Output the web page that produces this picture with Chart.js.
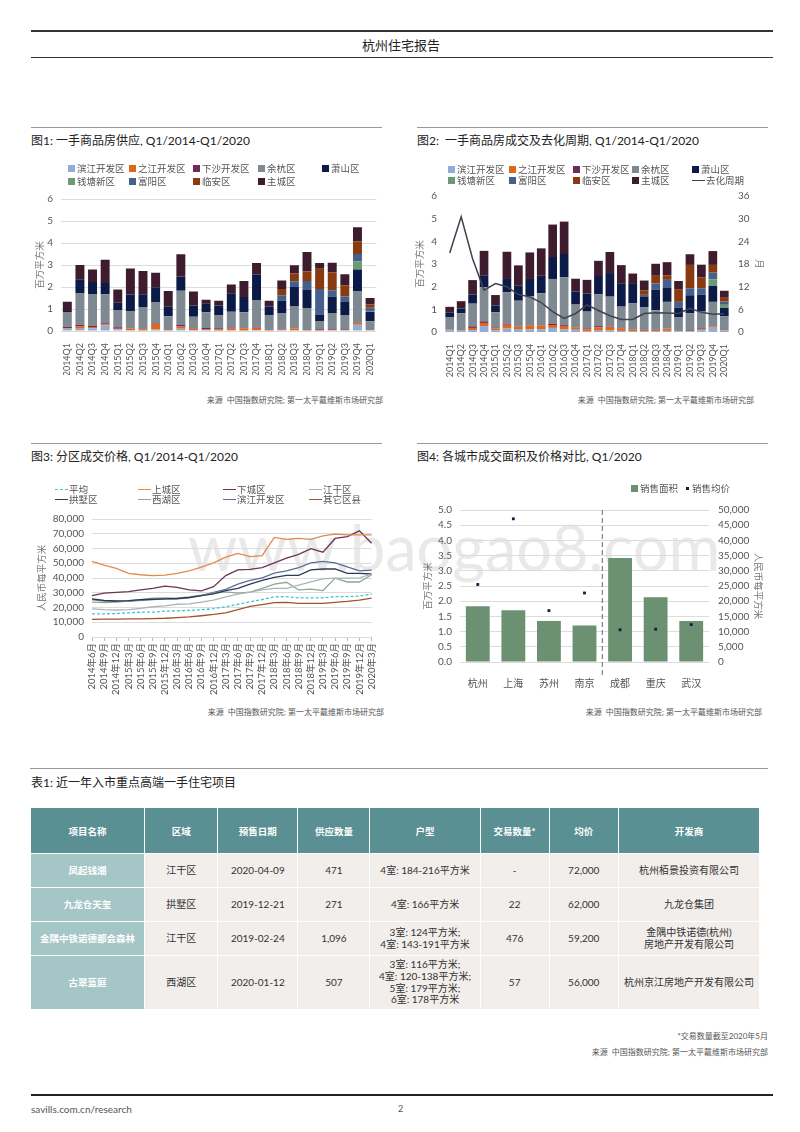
<!DOCTYPE html>
<html><head><meta charset="utf-8">
<script src="https://cdn.jsdelivr.net/npm/chart.js@4.4.1/dist/chart.umd.min.js"></script>
<style>
body{margin:0;background:#fff;}
#page{position:relative;width:800px;height:1132px;overflow:hidden;font-family:Lato,"Noto Sans CJK SC",sans-serif;color:#333;}
.t{position:absolute;white-space:nowrap;}
.rule{position:absolute;}
.title{font-size:12px;line-height:14px;color:#222;}
.src{font-size:8px;line-height:10px;color:#555;}
.lg{position:absolute;font-size:9.5px;line-height:12px;color:#555;white-space:nowrap;}
.cv{position:absolute;}
.wm{position:absolute;left:188px;top:512px;font-size:63px;line-height:70px;color:#e9e9e9;font-family:Lato,sans-serif;white-space:nowrap;}
table.tb{position:absolute;left:30px;top:807px;border-collapse:separate;border-spacing:1px;table-layout:fixed;width:730px;font-family:Lato,"Noto Sans CJK SC",sans-serif;}
.tb th{background:#5a9094;color:#fff;font-size:9.5px;font-weight:700;height:45px;padding:0;text-align:center;}
.tb td{background:#f1eeeb;color:#333;font-size:10px;line-height:11.7px;text-align:center;padding:0;}
.tb td.nm{background:#a5c6c6;color:#fff;font-weight:700;font-size:9.5px;}
</style></head>
<body><div id="page">
<div class="rule" style="left:31px;top:30px;width:742px;height:1.5px;background:#333"></div>
<div class="t" style="left:0;width:802px;text-align:center;top:37px;font-size:13px;line-height:16px;color:#222">杭州住宅报告</div>
<div class="rule" style="left:31px;top:56.5px;width:742px;height:1.5px;background:#333"></div>

<div class="rule" style="left:31px;top:127px;width:351px;height:1px;background:#999"></div>
<div class="rule" style="left:417px;top:127px;width:351px;height:1px;background:#999"></div>
<div class="t title" style="left:31px;top:134px">图1: 一手商品房供应, Q1/2014-Q1/2020</div>
<div class="t title" style="left:417px;top:134px">图2:&nbsp; 一手商品房成交及去化周期, Q1/2014-Q1/2020</div>

<div class="rule" style="left:31px;top:443px;width:351px;height:1px;background:#999"></div>
<div class="rule" style="left:417px;top:443px;width:351px;height:1px;background:#999"></div>
<div class="t title" style="left:31px;top:450px">图3: 分区成交价格, Q1/2014-Q1/2020</div>
<div class="t title" style="left:417px;top:450px">图4: 各城市成交面积及价格对比, Q1/2020</div>

<div class="wm">www.baogao8.com</div>

<div class="cv" style="left:28px;top:185px;"><canvas id="c1" width="357" height="190"></canvas></div>
<div class="cv" style="left:410px;top:182px;"><canvas id="c2" width="370" height="195"></canvas></div>
<div class="cv" style="left:28px;top:505px;"><canvas id="c3" width="357" height="195"></canvas></div>
<div class="cv" style="left:410px;top:495px;"><canvas id="c4" width="370" height="195"></canvas></div>

<div class="t src" style="right:417px;top:395px">来源&nbsp; 中国指数研究院; 第一太平戴维斯市场研究部</div>
<div class="t src" style="right:46px;top:395px">来源&nbsp; 中国指数研究院; 第一太平戴维斯市场研究部</div>
<div class="t src" style="right:416px;top:707px">来源&nbsp; 中国指数研究院; 第一太平戴维斯市场研究部</div>
<div class="t src" style="right:38px;top:707px">来源&nbsp; 中国指数研究院; 第一太平戴维斯市场研究部</div>

<div class="rule" style="left:30px;top:768px;width:738px;height:1px;background:#999"></div>
<div class="t title" style="left:31px;top:776px">表1: 近一年入市重点高端一手住宅项目</div>

<table class="tb">
<colgroup><col style="width:113px"><col style="width:72px"><col style="width:79px"><col style="width:71px"><col style="width:109px"><col style="width:68px"><col style="width:68px"><col style="width:140px"></colgroup>
<tr><th>项目名称</th><th>区域</th><th>预售日期</th><th>供应数量</th><th>户型</th><th>交易数量*</th><th>均价</th><th>开发商</th></tr>
<tr style="height:33px"><td class="nm">凤起钱潮</td><td>江干区</td><td>2020-04-09</td><td>471</td><td>4室: 184-216平方米</td><td>-</td><td>72,000</td><td>杭州栢景投资有限公司</td></tr>
<tr style="height:33px"><td class="nm">九龙仓天玺</td><td>拱墅区</td><td>2019-12-21</td><td>271</td><td>4室: 166平方米</td><td>22</td><td>62,000</td><td>九龙仓集团</td></tr>
<tr style="height:33px"><td class="nm">金隅中铁诺德都会森林</td><td>江干区</td><td>2019-02-24</td><td>1,096</td><td>3室: 124平方米;<br>4室: 143-191平方米</td><td>476</td><td>59,200</td><td>金隅中铁诺德(杭州)<br>房地产开发有限公司</td></tr>
<tr style="height:53px"><td class="nm">古翠蓝庭</td><td>西湖区</td><td>2020-01-12</td><td>507</td><td>3室: 116平方米;<br>4室: 120-138平方米;<br>5室: 179平方米;<br>6室: 178平方米</td><td>57</td><td>56,000</td><td>杭州京江房地产开发有限公司</td></tr>
</table>

<div class="t src" style="right:32px;top:1031px">*交易数量截至2020年5月</div>
<div class="t src" style="right:32px;top:1047px">来源&nbsp; 中国指数研究院; 第一太平戴维斯市场研究部</div>
<div class="rule" style="left:31px;top:1094px;width:742px;height:2px;background:#222"></div>
<div class="t" style="left:31px;top:1102px;font-size:10px;line-height:14px;color:#555">savills.com.cn/research</div>
<div class="t" style="left:398px;top:1102px;font-size:9px;line-height:14px;color:#555">2</div>
</div>

<script>
// ---------- DATA ----------
const quarters = ['2014Q1','2014Q2','2014Q3','2014Q4','2015Q1','2015Q2','2015Q3','2015Q4','2016Q1','2016Q2','2016Q3','2016Q4','2017Q1','2017Q2','2017Q3','2017Q4','2018Q1','2018Q2','2018Q3','2018Q4','2019Q1','2019Q2','2019Q3','2019Q4','2020Q1'];
const districtNames = ['滨江开发区','之江开发区','下沙开发区','余杭区','萧山区','钱塘新区','富阳区','临安区','主城区'];

// Fig.1 supply (million sqm)
const supplyBinjiang = [0.10,0.10,0.13,0.25,0.07,0.03,0.02,0.07,0.02,0.10,0.03,0.05,0.02,0.03,0.02,0.05,0.02,0.03,0.03,0.02,0.02,0.03,0.04,0.28,0.03];
const supplyZhijiang = [0.02,0.10,0.05,0.05,0.03,0.08,0.06,0.25,0.03,0.10,0.07,0.02,0.05,0.08,0.10,0.10,0.02,0.04,0.08,0.02,0.01,0.03,0.02,0.08,0.01];
const supplyXiasha   = [0.07,0.08,0.06,0.05,0.07,0.02,0.02,0.02,0.01,0.07,0.02,0.07,0.05,0.05,0.02,0.02,0.01,0.02,0.02,0.01,0.05,0.03,0.03,0.02,0.01];
const supplyYuhang   = [0.65,1.42,1.42,1.32,0.78,0.78,0.99,0.95,0.61,1.56,0.53,0.71,0.58,0.71,0.71,1.24,0.68,0.70,0.98,0.99,0.35,0.73,0.64,1.41,0.39];
const supplyXiaoshan = [0.07,0.63,0.57,0.51,0.33,0.75,0.58,0.70,0.43,0.65,0.51,0.41,0.46,0.85,0.70,1.16,0.38,0.59,0.89,0.85,0.32,0.75,0.59,1.00,0.43];
const supplyQiantang = [0,0,0,0,0,0,0,0,0,0,0,0,0,0,0,0,0,0,0,0,0,0,0,0.37,0.03];
const supplyFuyang   = [0,0,0,0,0,0,0,0,0,0,0,0,0,0,0,0,0,0.25,0.26,0.38,1.16,0.28,0.25,0.34,0.16];
const supplyLinan    = [0,0,0,0,0,0,0,0,0,0,0,0,0,0,0,0,0,0.28,0.35,0.43,0.92,0.82,0.51,0.57,0.15];
const supplyCore     = [0.42,0.67,0.56,1.06,0.61,1.18,1.06,0.66,0.72,1.01,0.63,0.16,0.22,0.39,0.72,0.52,0.27,0.38,0.38,0.89,0.26,0.43,0.50,0.65,0.29];

// Fig.2 transactions (million sqm) and months of inventory
const salesBinjiang = [0.08,0.06,0.08,0.26,0.08,0.15,0.13,0.11,0.12,0.18,0.12,0.10,0.02,0.06,0.07,0.05,0.04,0.04,0.04,0.05,0.03,0.03,0.08,0.19,0.06];
const salesZhijiang = [0.02,0.02,0.10,0.14,0.08,0.17,0.12,0.17,0.17,0.13,0.15,0.10,0.10,0.14,0.16,0.12,0.08,0.05,0.05,0.10,0.01,0.02,0.03,0.05,0.02];
const salesXiasha   = [0.01,0.03,0.07,0.07,0.04,0.04,0.03,0.02,0.02,0.06,0.05,0.02,0.04,0.06,0.02,0.01,0.01,0.01,0.01,0.01,0.01,0.03,0.05,0.02,0.01];
const salesYuhang   = [0.53,0.71,1.00,1.50,0.67,1.39,1.10,1.27,1.40,1.97,2.09,0.99,0.74,1.40,1.31,0.94,1.13,1.00,0.86,1.17,0.61,0.74,0.74,1.07,0.60];
const salesXiaoshan = [0.21,0.21,0.40,0.51,0.30,0.59,0.66,0.77,0.77,0.97,1.03,0.57,0.80,0.81,1.04,1.03,0.86,0.47,0.91,0.61,0.41,0.80,0.74,0.70,0.37];
const salesQiantang = [0,0,0,0,0,0,0,0,0,0,0,0,0,0,0,0,0,0,0,0,0,0,0,0.29,0.14];
const salesFuyang   = [0,0,0,0,0,0,0,0,0,0,0,0,0,0,0,0,0,0.07,0.27,0.36,0.26,0.31,0.29,0.30,0.14];
const salesLinan    = [0,0,0,0,0,0,0,0,0,0,0,0,0,0,0,0,0,0.20,0.34,0.19,0.56,1.03,0.47,0.34,0.17];
const salesCore     = [0.26,0.33,0.64,1.10,0.46,1.20,0.90,1.17,1.21,1.43,1.43,0.57,0.60,0.67,0.93,0.80,0.46,0.43,0.53,0.59,0.36,0.47,0.57,0.61,0.31];
const monthsInventory = [20.9,30.5,19.4,11.1,12.8,12.0,9.9,9.3,7.8,5.4,3.6,4.9,7.2,5.7,4.3,3.3,3.3,4.9,5.1,5.0,4.9,6.3,5.2,4.7,4.8];
const inventoryName = '去化周期';

// Fig.3 prices (RMB / sqm)
const months = ['2014年6月','2014年9月','2014年12月','2015年3月','2015年6月','2015年9月','2015年12月','2016年3月','2016年6月','2016年9月','2016年12月','2017年3月','2017年6月','2017年9月','2017年12月','2018年3月','2018年6月','2018年9月','2018年12月','2019年3月','2019年6月','2019年9月','2019年12月','2020年3月'];
const priceNames = ['平均','上城区','下城区','江干区','拱墅区','西湖区','滨江开发区','其它区县'];
const priceAvg        = [15700,15700,15900,16400,16800,16800,17500,17700,18100,18500,19200,20500,22200,23900,25400,27200,27400,26500,26500,26500,27400,27400,27800,29100];
const priceShangcheng = [51300,48700,46500,43100,42200,41600,42000,43100,44800,47400,50200,54100,56700,54500,55200,67500,66200,66800,66200,68500,69800,69200,69200,69200];
const priceXiacheng   = [28000,29700,30200,30800,31900,33000,34500,33600,31900,31300,34100,41600,45500,45900,47000,50200,53400,56000,59900,57500,66800,68100,72000,63600];
const priceJianggan   = [19000,18500,18300,18500,19400,20500,21100,22200,22400,23700,25000,27200,29100,30400,31900,33000,33000,35100,37300,39400,39900,39900,40100,42700];
const priceGongshu    = [25900,24800,24400,24600,25400,25600,25900,26100,26900,28000,29300,31500,33000,35800,38400,40500,41800,41800,45500,46100,46100,43100,43100,42700];
const priceXihu       = [23700,23300,23700,24400,25400,26300,26500,26300,27200,28400,29700,30600,29700,30400,33000,35800,37100,31900,32500,31500,39900,37300,37300,42200];
const priceBinjiang   = [25400,24400,24100,24100,24800,25400,25900,25900,26500,28000,30200,32300,35800,38400,40100,43300,44800,47000,50200,51300,50200,47600,44800,45300];
const priceOthers     = [11900,12100,12100,12300,12300,12500,12700,13100,13600,14400,15300,16400,18500,20700,22000,23300,23500,22800,22800,22800,23500,24100,25000,26300];

// Fig.4 city comparison
const cities = ['杭州','上海','苏州','南京','成都','重庆','武汉'];
const cityArea  = [1.83,1.70,1.35,1.20,3.42,2.13,1.35];
const cityPrice = [25500,47100,16900,22700,10600,10800,12300];
const cityNames = ['销售面积','销售均价'];

// ---------- STYLE ----------
const districtColors = ['#93acd4','#e0661c','#6e2b5a','#7f8992','#0b1a46','#6a9a72','#46608e','#8a3a0f','#3e1c2d'];
const priceColors = ['#3ec6d4','#e28a52','#6b3357','#aab4bc','#2e3959','#8ea98b','#5b6e95','#a2532c'];
const page = document.getElementById('page');

Chart.defaults.font.family = 'Lato, "Noto Sans CJK SC", sans-serif';
Chart.defaults.font.size = 10;
Chart.defaults.color = '#555';
Chart.defaults.animation = false;
Chart.defaults.plugins.legend.display = false;
Chart.defaults.plugins.tooltip.enabled = false;

function addLegend(items){
  items.forEach(([t,c,k,x,y])=>{
    const d=document.createElement('div'); d.className='lg';
    d.style.left=x+'px'; d.style.top=(y-6)+'px';
    const m=document.createElement('span');
    if(k==='sq') m.style.cssText=`display:inline-block;width:7px;height:7px;background:${c};margin-right:2px;vertical-align:0px`;
    else if(k==='dot') m.style.cssText=`display:inline-block;width:3px;height:3px;background:${c};margin:0 3px 0 2px;vertical-align:2px`;
    else m.style.cssText=`display:inline-block;width:13px;height:0;border-top:1.3px ${k==='dash'?'dashed':'solid'} ${c};margin-right:1px;vertical-align:3px`;
    d.appendChild(m); d.appendChild(document.createTextNode(t)); page.appendChild(d);
  });
}

// ---------- FIG 1 ----------
const supplySeries = [supplyBinjiang,supplyZhijiang,supplyXiasha,supplyYuhang,supplyXiaoshan,supplyQiantang,supplyFuyang,supplyLinan,supplyCore];
new Chart(document.getElementById('c1'),{
  type:'bar',
  data:{labels:quarters,datasets:supplySeries.map((d,i)=>({label:districtNames[i],data:d,backgroundColor:districtColors[i],barPercentage:0.71,categoryPercentage:1}))},
  options:{responsive:false,layout:{padding:{top:9,right:6,left:0,bottom:0}},
    scales:{
      x:{stacked:true,grid:{display:false},border:{display:false},ticks:{minRotation:90,maxRotation:90,autoSkip:false,padding:4,font:{size:9}},afterFit(s){s.height=44;}},
      y:{stacked:true,min:0,max:6,ticks:{stepSize:1,padding:8,autoSkip:false},grid:{color:'#dcdcdc',drawTicks:false},border:{display:false},
         title:{display:true,text:'百万平方米',padding:{top:6,bottom:0},font:{size:9.5},color:'#777'},afterFit(s){s.width=33;}}
    }}
});
{
  const xs=[68,129,193,258,322], ys=[168.5,181.5];
  addLegend(districtNames.map((n,i)=>[n,districtColors[i],'sq',xs[i%5],ys[Math.floor(i/5)]]));
}

// ---------- FIG 2 ----------
const salesSeries = [salesBinjiang,salesZhijiang,salesXiasha,salesYuhang,salesXiaoshan,salesQiantang,salesFuyang,salesLinan,salesCore];
new Chart(document.getElementById('c2'),{
  type:'bar',
  data:{labels:quarters,datasets:[
    {type:'line',label:inventoryName,data:monthsInventory,yAxisID:'y2',borderColor:'#3f4350',borderWidth:1.5,pointRadius:0,tension:0,order:0},
    ...salesSeries.map((d,i)=>({label:districtNames[i],data:d,backgroundColor:districtColors[i],barPercentage:0.76,categoryPercentage:1,order:1,yAxisID:'y'}))
  ]},
  options:{responsive:false,layout:{padding:{top:10,right:0,left:0,bottom:0}},
    scales:{
      x:{stacked:true,grid:{display:false},border:{display:false},ticks:{minRotation:90,maxRotation:90,autoSkip:false,padding:4,font:{size:9}},afterFit(s){s.height=45;}},
      y:{stacked:true,min:0,max:6,ticks:{stepSize:1,padding:7,autoSkip:false},grid:{display:false,drawTicks:false},border:{display:false},
         title:{display:true,text:'百万平方米',padding:{top:4,bottom:0},font:{size:9.5},color:'#777'},afterFit(s){s.width=34;}},
      y2:{position:'right',min:0,max:36,ticks:{stepSize:6,padding:8,autoSkip:false},grid:{display:false,drawTicks:false},border:{display:false},
         title:{display:true,text:'月',padding:{top:15,bottom:0},font:{size:9.5},color:'#777'},afterFit(s){s.width=50;}}
    }}
});
{
  const xs=[448,509,573,632,692], ys=[169.5,181];
  const it=districtNames.map((n,i)=>[n,districtColors[i],'sq',xs[i%5],ys[Math.floor(i/5)]]);
  it.push([inventoryName,'#3f4350','line',692,181]);
  addLegend(it);
}

// ---------- FIG 3 ----------
const priceSeries=[priceAvg,priceShangcheng,priceXiacheng,priceJianggan,priceGongshu,priceXihu,priceBinjiang,priceOthers];
new Chart(document.getElementById('c3'),{
  type:'line',
  data:{labels:months,datasets:priceSeries.map((d,i)=>({label:priceNames[i],data:d,borderColor:priceColors[i],borderWidth:1.3,pointRadius:0,tension:0,borderDash:i===0?[3,2]:[]}))},
  options:{responsive:false,layout:{padding:{top:9,right:13,left:0,bottom:0}},
    scales:{
      x:{offset:false,grid:{display:true,drawOnChartArea:false,tickLength:4,color:'#bbb'},border:{display:false},ticks:{minRotation:90,maxRotation:90,autoSkip:false,padding:2,font:{size:9.5}},afterFit(s){s.height=63;}},
      y:{min:0,max:80000,ticks:{stepSize:10000,padding:8,autoSkip:false,callback:v=>v.toLocaleString('en-US')},grid:{color:'#dcdcdc',drawTicks:false},border:{display:false},
         title:{display:true,text:'人民币每平方米',padding:{top:8,bottom:0},font:{size:9.5},color:'#777'},afterFit(s){s.width=64;}}
    }}
});
{
  const xs=[55,138,223,309], ys=[489.5,499.5];
  addLegend(priceNames.map((n,i)=>[n,priceColors[i],i===0?'dash':'line',xs[i%4],ys[Math.floor(i/4)]]));
}

// ---------- FIG 4 ----------
const dividerPlugin={id:'divider',afterDatasetsDraw(chart){
  const xs=chart.scales.x, ca=chart.chartArea, ctx=chart.ctx;
  const x=(xs.getPixelForValue(3)+xs.getPixelForValue(4))/2;
  ctx.save(); ctx.strokeStyle='#666'; ctx.lineWidth=1; ctx.setLineDash([5,3]);
  ctx.beginPath(); ctx.moveTo(x,ca.top); ctx.lineTo(x,ca.bottom+15); ctx.stroke(); ctx.restore();
}};
new Chart(document.getElementById('c4'),{
  type:'bar',
  data:{labels:cities,datasets:[
    {type:'line',label:cityNames[1],data:cityPrice,yAxisID:'y2',showLine:false,pointStyle:'rect',pointRadius:2,backgroundColor:'#0e1c47',borderColor:'#0e1c47',borderWidth:0,order:0},
    {label:cityNames[0],data:cityArea,yAxisID:'y',backgroundColor:'#6b9072',barPercentage:0.67,categoryPercentage:1,order:1}
  ]},
  options:{responsive:false,layout:{padding:{top:7,right:0,left:0,bottom:0}},
    scales:{
      x:{grid:{display:false},border:{display:false},ticks:{padding:8,font:{size:10}},afterFit(s){s.height=28;}},
      y:{min:0,max:5,ticks:{stepSize:0.5,padding:8,autoSkip:false,callback:v=>v.toFixed(1)},grid:{color:'#dcdcdc',drawTicks:false},border:{display:false},
         title:{display:true,text:'百万平方米',padding:{top:12,bottom:0},font:{size:9.5},color:'#777'},afterFit(s){s.width=50;}},
      y2:{position:'right',min:0,max:50000,ticks:{stepSize:5000,padding:9,autoSkip:false,callback:v=>v.toLocaleString('en-US')},grid:{display:false,drawTicks:false},border:{display:false},
         title:{display:true,text:'人民币每平方米',padding:{top:16,bottom:0},font:{size:9.5},color:'#777'},afterFit(s){s.width=71;}}
    }},
  plugins:[dividerPlugin]
});
addLegend([[cityNames[0],'#6b9072','sq',631,489],[cityNames[1],'#0e1c47','dot',684,489]]);
</script>
</body></html>
